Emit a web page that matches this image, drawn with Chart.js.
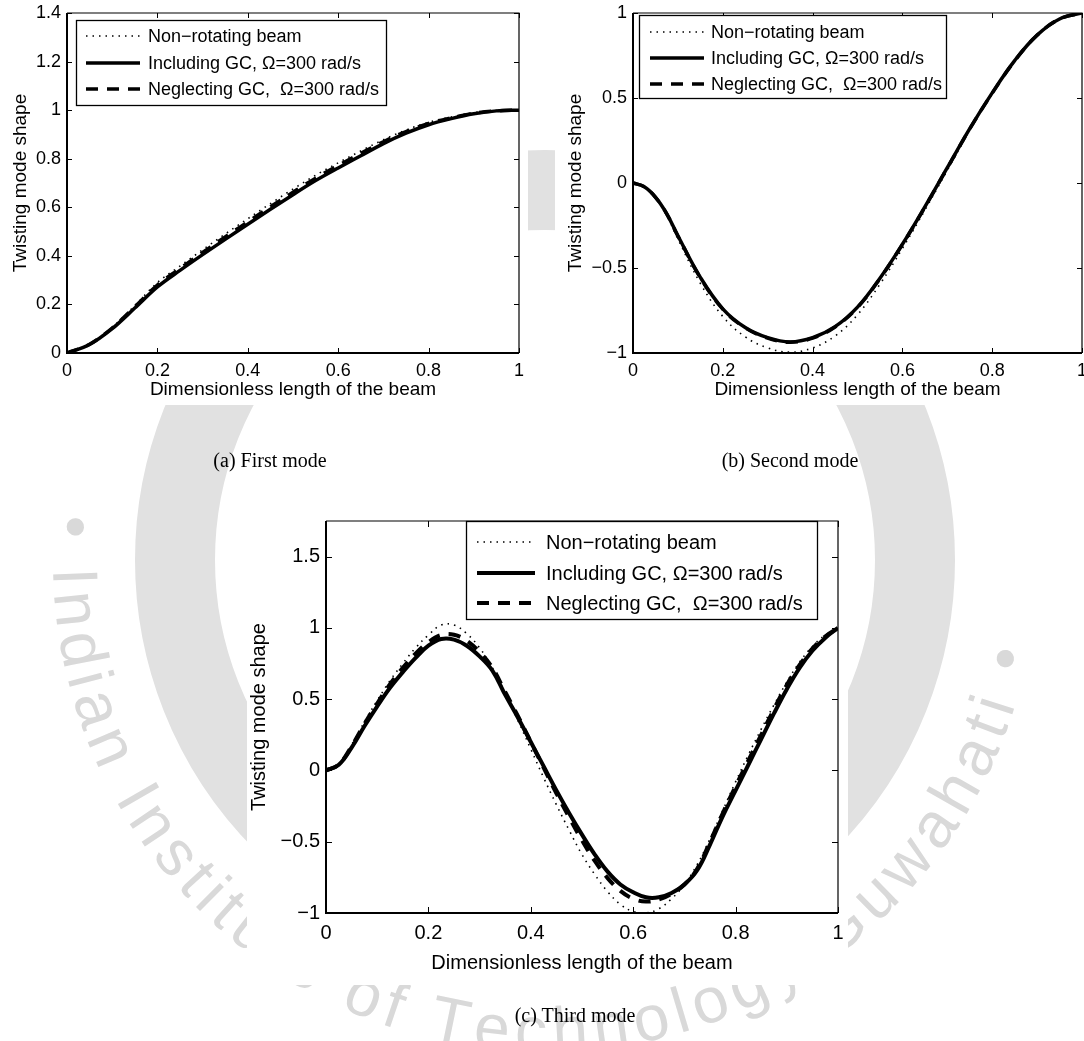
<!DOCTYPE html>
<html><head><meta charset="utf-8">
<script src="https://cdn.jsdelivr.net/npm/chart.js@4.4.1/dist/chart.umd.min.js"></script>
<style>
html,body{margin:0;padding:0;background:#fff;width:1084px;height:1041px;overflow:hidden;position:relative}
#bg{position:absolute;left:0;top:0}
.panel{position:absolute;background:#fff}
.panel canvas{display:block}
.cap{position:absolute;font-family:'Liberation Serif','Times New Roman',serif;font-size:20px;line-height:24px;color:#000;text-align:center;white-space:nowrap}
</style></head><body>
<canvas id="bg" width="1084" height="1041"></canvas>
<div class="panel" style="left:0;top:0;width:528px;height:405px"><canvas id="cA" width="528" height="405"></canvas></div>
<div class="panel" style="left:555px;top:0;width:529px;height:405px"><canvas id="cB" width="529" height="405"></canvas></div>
<div class="panel" style="left:247px;top:478px;width:601px;height:507px"><canvas id="cC" width="601" height="507"></canvas></div>
<div class="cap" style="left:170px;top:448px;width:200px">(a) First mode</div>
<div class="cap" style="left:690px;top:448px;width:200px">(b) Second mode</div>
<div class="cap" style="left:475px;top:1003px;width:200px">(c) Third mode</div>
<script>
// ---------- DATA ----------
const seriesLabels = ['Non\u2212rotating beam', 'Including GC, \u03A9=300 rad/s', 'Neglecting GC,  \u03A9=300 rad/s'];
const xTitle = 'Dimensionless length of the beam';
const yTitle = 'Twisting mode shape';
const xTickValues = [0, 0.2, 0.4, 0.6, 0.8, 1];
const yTicksMode1 = [0, 0.2, 0.4, 0.6, 0.8, 1, 1.2, 1.4];
const yTicksMode2 = [-1, -0.5, 0, 0.5, 1];
const yTicksMode3 = [-1, -0.5, 0, 0.5, 1, 1.5];

const xCoarse = [0,0.05,0.1,0.15,0.2,0.25,0.3,0.35,0.4,0.45,0.5,0.55,0.6,0.65,0.7,0.75,0.8,0.85,0.9,0.95,1];
const xMode2 = [0,0.025,0.05,0.075,0.1,0.15,0.2,0.25,0.3,0.35,0.4,0.45,0.5,0.55,0.6,0.65,0.7,0.75,0.8,0.85,0.9,0.95,1];
const xFine = [0,0.025,0.05,0.075,0.1,0.125,0.15,0.175,0.2,0.225,0.25,0.275,0.3,0.325,0.35,0.375,0.4,0.425,0.45,0.475,0.5,0.525,0.55,0.575,0.6,0.625,0.65,0.675,0.7,0.725,0.75,0.775,0.8,0.825,0.85,0.875,0.9,0.925,0.95,0.975,1];

// Mode 1
const mode1NonRot = [0,0.037,0.106,0.195,0.29,0.358,0.425,0.49,0.553,0.615,0.675,0.732,0.783,0.832,0.878,0.918,0.95,0.972,0.99,0.998,1];
const mode1Incl   = [0,0.035,0.10,0.185,0.272,0.34,0.405,0.468,0.53,0.592,0.652,0.71,0.762,0.812,0.862,0.905,0.94,0.965,0.985,0.997,1];
const mode1Negl   = [0,0.036,0.103,0.19,0.28,0.348,0.414,0.478,0.54,0.602,0.662,0.72,0.772,0.822,0.87,0.912,0.945,0.968,0.987,0.997,1];

// Mode 2
const mode2NonRot = [0,-0.024,-0.088,-0.19,-0.33,-0.59,-0.785,-0.905,-0.97,-0.995,-0.97,-0.9,-0.775,-0.595,-0.385,-0.16,0.075,0.31,0.525,0.715,0.865,0.962,1];
const mode2Incl   = [0,-0.022,-0.083,-0.18,-0.31,-0.555,-0.74,-0.85,-0.91,-0.935,-0.91,-0.845,-0.73,-0.56,-0.36,-0.14,0.09,0.32,0.53,0.72,0.87,0.965,1];
const mode2Negl   = [0,-0.022,-0.084,-0.181,-0.312,-0.557,-0.742,-0.852,-0.912,-0.937,-0.912,-0.847,-0.732,-0.562,-0.362,-0.142,0.088,0.318,0.528,0.718,0.869,0.965,1];

// Mode 3
const mode3NonRot = [0,0.045,0.18,0.34,0.49,0.63,0.75,0.86,0.95,1.02,1.02,0.96,0.86,0.72,0.54,0.35,0.15,-0.05,-0.24,-0.42,-0.59,-0.73,-0.85,-0.94,-0.99,-1.0,-0.97,-0.9,-0.8,-0.66,-0.48,-0.28,-0.08,0.11,0.29,0.46,0.62,0.76,0.87,0.95,1];
const mode3Incl   = [0,0.04,0.16,0.31,0.45,0.58,0.69,0.79,0.875,0.922,0.918,0.875,0.80,0.70,0.53,0.37,0.20,0.03,-0.14,-0.30,-0.45,-0.59,-0.71,-0.80,-0.855,-0.89,-0.89,-0.86,-0.80,-0.70,-0.52,-0.32,-0.14,0.04,0.22,0.40,0.57,0.72,0.84,0.93,1];
const mode3Negl   = [0,0.042,0.17,0.325,0.47,0.605,0.72,0.82,0.9,0.95,0.952,0.91,0.83,0.72,0.55,0.38,0.2,0.02,-0.16,-0.33,-0.49,-0.635,-0.755,-0.845,-0.9,-0.92,-0.905,-0.865,-0.8,-0.69,-0.5,-0.3,-0.11,0.07,0.25,0.43,0.6,0.74,0.855,0.94,1];

// ---------- WATERMARK ----------
(function(){
  const c = document.getElementById('bg').getContext('2d');
  const cx = 545, cy = 560;
  c.strokeStyle = '#e1e1e1';
  c.lineWidth = 80;
  c.beginPath(); c.arc(cx, cy, 370, 0, Math.PI*2); c.stroke();
  c.fillStyle = '#d9d9d9';
  c.font = '64px "Liberation Sans", Arial, sans-serif';
  c.textBaseline = 'alphabetic';
  const txt = '\u2022 Indian Institute of Technology Guwahati \u2022';
  const r = 492;
  let th = Math.PI + 0.1;
  for (const ch of txt) {
    const w = c.measureText(ch).width + 7;
    const mid = th - (w/2)/r;
    c.save();
    c.translate(cx + r*Math.cos(mid), cy + r*Math.sin(mid));
    c.rotate(mid - Math.PI/2);
    c.fillText(ch, -(w-7)/2, 0);
    c.restore();
    th -= w / r;
  }
})();

// ---------- PLUGINS ----------
const matlabBox = {
  id: 'matlabBox',
  afterDatasetsDraw(chart, args, o) {
    const {ctx, chartArea: a, scales: {x, y}} = chart;
    const tl = o.tickLen || 5;
    ctx.save();
    ctx.strokeStyle = '#000';
    ctx.setLineDash([]);
    ctx.lineWidth = 1.2;
    ctx.beginPath();
    ctx.moveTo(a.left, a.top); ctx.lineTo(a.right, a.top); ctx.lineTo(a.right, a.bottom);
    ctx.stroke();
    ctx.lineWidth = 2;
    ctx.beginPath();
    ctx.moveTo(a.left, a.top); ctx.lineTo(a.left, a.bottom); ctx.lineTo(a.right, a.bottom);
    ctx.stroke();
    ctx.lineWidth = 1;
    ctx.beginPath();
    x.ticks.forEach(t => {
      const p = Math.round(x.getPixelForValue(t.value)) + 0.5;
      ctx.moveTo(p, a.bottom); ctx.lineTo(p, a.bottom - tl);
      ctx.moveTo(p, a.top); ctx.lineTo(p, a.top + tl);
    });
    y.ticks.forEach(t => {
      const p = Math.round(y.getPixelForValue(t.value)) + 0.5;
      ctx.moveTo(a.left, p); ctx.lineTo(a.left + tl, p);
      ctx.moveTo(a.right, p); ctx.lineTo(a.right - tl, p);
    });
    ctx.stroke();
    ctx.restore();
  }
};
const boxLegend = {
  id: 'boxLegend',
  afterDraw(chart, args, o) {
    if (!o || o.x0 === undefined) return;
    const ctx = chart.ctx;
    ctx.save();
    ctx.fillStyle = '#fff';
    ctx.fillRect(o.x0, o.y0, o.x1 - o.x0, o.y1 - o.y0);
    ctx.strokeStyle = '#000'; ctx.lineWidth = 1.3; ctx.setLineDash([]);
    ctx.strokeRect(o.x0 + 0.5, o.y0 + 0.5, o.x1 - o.x0 - 1, o.y1 - o.y0 - 1);
    chart.data.datasets.forEach((ds, i) => {
      const yy = o.rows[i];
      ctx.beginPath();
      ctx.setLineDash(ds.borderDash || []);
      ctx.lineWidth = ds.borderWidth;
      ctx.strokeStyle = ds.borderColor;
      ctx.moveTo(o.lx0, yy); ctx.lineTo(o.lx1, yy);
      ctx.stroke();
      ctx.setLineDash([]);
      ctx.fillStyle = '#000';
      ctx.font = o.font;
      ctx.textBaseline = 'middle';
      ctx.textAlign = 'left';
      ctx.fillText(ds.label, o.tx, yy + 1);
    });
    ctx.restore();
  }
};
Chart.register(matlabBox, boxLegend);

function fmt(v) {
  if (v === 0) return '0';
  return (v < 0 ? '\u2212' : '') + String(Math.abs(v));
}

function buildChart(id, xs, arrays, yMin, yMax, yTickVals, L) {
  const styles = [
    {borderWidth: 1.6, borderDash: [1.5, 5]},
    {borderWidth: L.solidW, borderDash: []},
    {borderWidth: L.solidW, borderDash: [12, 9]}
  ];
  const datasets = arrays.map((arr, i) => ({
    label: seriesLabels[i],
    data: xs.map((xv, k) => ({x: xv, y: arr[k]})),
    borderColor: '#000',
    backgroundColor: '#000',
    borderWidth: styles[i].borderWidth,
    borderDash: styles[i].borderDash,
    pointRadius: 0,
    cubicInterpolationMode: L.interp,
    tension: 0.4,
    fill: false
  }));
  const tickFont = {family: "'Liberation Sans', Arial, sans-serif", size: L.tickSize};
  const titleFont = {family: "'Liberation Sans', Arial, sans-serif", size: L.titleSize, lineHeight: 1.2};
  return new Chart(document.getElementById(id), {
    type: 'line',
    data: {datasets},
    options: {
      responsive: false,
      maintainAspectRatio: false,
      animation: false,
      devicePixelRatio: 1,
      layout: {padding: {left: 0, top: L.padTop, right: L.padRight, bottom: 0}},
      plugins: {
        legend: {display: false},
        tooltip: {enabled: false},
        matlabBox: {tickLen: L.tickLen},
        boxLegend: L.legend
      },
      scales: {
        x: {
          type: 'linear', min: 0, max: 1,
          afterBuildTicks: s => { s.ticks = xTickValues.map(v => ({value: v})); },
          afterFit: s => { s.height = L.xH; s.paddingLeft = 0; s.paddingRight = 0; },
          ticks: {font: tickFont, color: '#000', padding: L.xTickPad, maxRotation: 0, autoSkip: false, callback: v => fmt(v)},
          grid: {display: false, drawTicks: false},
          border: {display: false},
          title: {display: true, text: xTitle, color: '#000', font: titleFont, padding: {top: L.xTitlePad, bottom: L.xTitlePad}}
        },
        y: {
          type: 'linear', min: yMin, max: yMax,
          afterBuildTicks: s => { s.ticks = yTickVals.map(v => ({value: v})); },
          afterFit: s => { s.width = L.yW; s.paddingTop = 0; s.paddingBottom = 0; },
          ticks: {font: tickFont, color: '#000', padding: 6, autoSkip: false, callback: v => fmt(v)},
          grid: {display: false, drawTicks: false},
          border: {display: false},
          title: {display: true, text: yTitle, color: '#000', font: titleFont, padding: {top: L.yTitlePad, bottom: L.yTitlePad}}
        }
      }
    }
  });
}

buildChart('cA', xCoarse, [mode1NonRot, mode1Incl, mode1Negl], 0, 1.4, yTicksMode1, {
  padTop: 13, padRight: 9, yW: 67, xH: 52, tickSize: 18, titleSize: 19, xTickPad: 7,
  xTitlePad: 3.6, yTitlePad: 9.6, tickLen: 5, solidW: 3.5, interp: 'monotone',
  legend: {x0: 76, y0: 20, x1: 387, y1: 106, rows: [36, 63, 89], lx0: 86, lx1: 140, tx: 148,
           font: "18px 'Liberation Sans', Arial, sans-serif"}
});
buildChart('cB', xMode2, [mode2NonRot, mode2Incl, mode2Negl], -1, 1, yTicksMode2, {
  padTop: 13, padRight: 2, yW: 78, xH: 52, tickSize: 18, titleSize: 19, xTickPad: 7,
  xTitlePad: 3.6, yTitlePad: 9.6, tickLen: 5, solidW: 3.5, interp: 'default',
  legend: {x0: 84, y0: 15, x1: 392, y1: 99, rows: [32, 58, 84], lx0: 95, lx1: 149, tx: 156,
           font: "18px 'Liberation Sans', Arial, sans-serif"}
});
buildChart('cC', xFine, [mode3NonRot, mode3Incl, mode3Negl], -1, 1.75, yTicksMode3, {
  padTop: 43, padRight: 10, yW: 79, xH: 72, tickSize: 20, titleSize: 20, xTickPad: 8,
  xTitlePad: 10, yTitlePad: 0, tickLen: 6, solidW: 4, interp: 'default',
  legend: {x0: 219, y0: 43, x1: 571, y1: 142, rows: [64, 95, 125], lx0: 230, lx1: 288, tx: 299,
           font: "20px 'Liberation Sans', Arial, sans-serif"}
});
</script>
</body></html>
